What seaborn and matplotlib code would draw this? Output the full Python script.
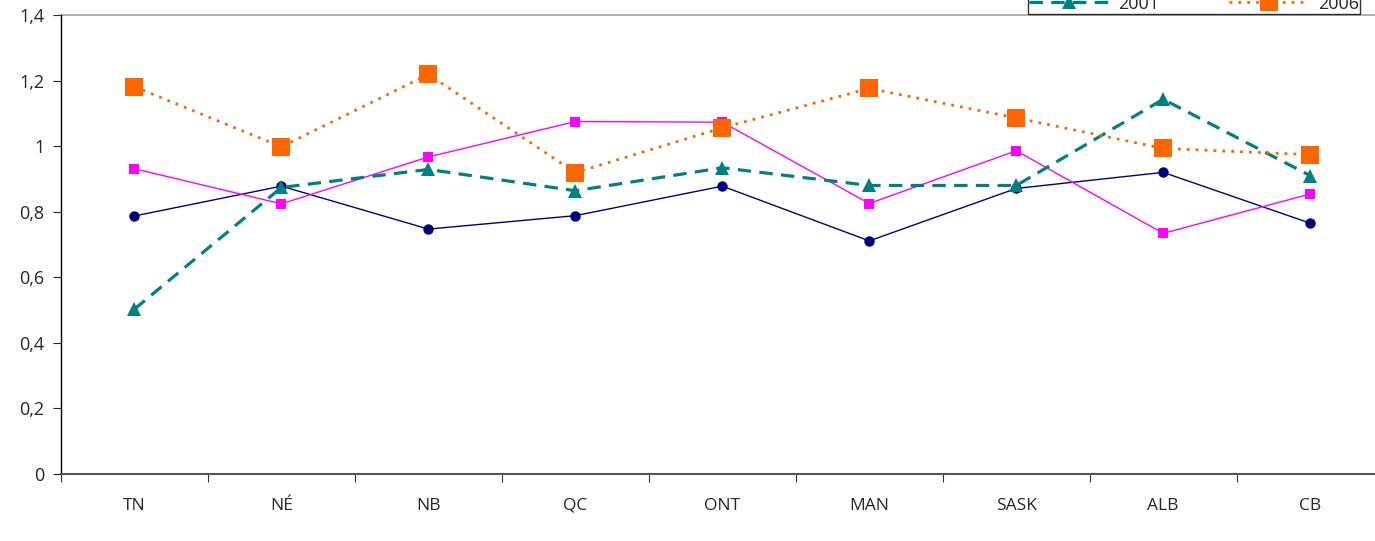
import matplotlib
matplotlib.use("Agg")
import matplotlib.pyplot as plt
import matplotlib.ticker as mticker
import numpy as np
import pandas as pd
import seaborn as sns

# categories (provinces)
provinces = ["TN", "NÉ", "NB", "QC", "ONT", "MAN", "SASK", "ALB", "CB"]

# series values
years = ["1991", "1996", "2001", "2006"]
v1991 = [0.787, 0.878, 0.747, 0.788, 0.878, 0.711, 0.871, 0.920, 0.765]
v1996 = [0.931, 0.824, 0.967, 1.075, 1.073, 0.825, 0.986, 0.734, 0.854]
v2001 = [0.503, 0.874, 0.929, 0.864, 0.934, 0.880, 0.880, 1.143, 0.910]
v2006 = [1.181, 0.998, 1.219, 0.919, 1.056, 1.176, 1.086, 0.993, 0.974]

ytick_values = [0, 0.2, 0.4, 0.6, 0.8, 1.0, 1.2, 1.4]

styles = {
    "1991": dict(color="#000080", marker="o", markersize=7.5, linewidth=1.0, linestyle="-"),
    "1996": dict(color="#FF00FF", marker="s", markersize=7, linewidth=1.0, linestyle="-"),
    "2001": dict(color="#008080", marker="^", markersize=9.5, linewidth=2.3, linestyle=(0, (4.2, 2.6))),
    "2006": dict(color="#FF6600", marker="s", markersize=13, linewidth=2.0, linestyle=(0, (1, 2.2))),
}

df = pd.DataFrame({"province": provinces, "1991": v1991, "1996": v1996,
                   "2001": v2001, "2006": v2006})

sns.set_theme(style="white")
plt.rcParams["font.family"] = ["Open Sans", "DejaVu Sans"]

fig = plt.figure(figsize=(13.75, 5.41), dpi=100)
ax = fig.add_axes([61 / 1375, (541 - 474) / 541, 1330 / 1375, (474 - 15) / 541])

xs = np.arange(len(provinces))
handles = {}
for yr in years:
    st = styles[yr]
    sns.lineplot(x=xs, y=df[yr], ax=ax, color=st["color"], marker=st["marker"],
                 markersize=st["markersize"], linewidth=st["linewidth"],
                 linestyle=st["linestyle"], markeredgecolor=st["color"],
                 markeredgewidth=0, label=yr, legend=False)
    handles[yr] = ax.lines[-1]

ax.set_xlim(-0.5, len(provinces) - 0.5 + 0.05)
ax.set_ylim(0, 1.4)
ax.set_xticks(xs)
ax.set_xticklabels(provinces, fontsize=12.5)
ax.xaxis.set_minor_locator(mticker.FixedLocator(np.arange(-0.5, len(provinces), 1)))
ax.tick_params(axis="x", which="major", length=0, pad=17)
ax.tick_params(axis="x", which="minor", length=6, width=0.8, color="#333333", direction="out")
ax.set_yticks(ytick_values)
ax.yaxis.set_major_formatter(mticker.FuncFormatter(
    lambda v, p: f"{round(v, 1):g}".replace(".", ",")))
ax.tick_params(axis="y", length=6, width=0.8, direction="out", labelsize=13, pad=6)
ax.tick_params(left=True, bottom=True, which="both")

ax.axhline(1.4, color="#a0a0a0", linewidth=1.2, clip_on=False)
for side in ["top", "right"]:
    ax.spines[side].set_visible(False)
ax.spines["left"].set_color("#000000")
ax.spines["left"].set_linewidth(1.0)
ax.spines["bottom"].set_color("#555555")
ax.spines["bottom"].set_linewidth(1.5)
ax.set_xlabel("")
ax.set_ylabel("")
ax.grid(False)

# legend sits above the figure edge, only its lower row is visible
order = ["1991", "2001", "1996", "2006"]
leg = fig.legend([handles[y] for y in order], order, ncol=2, loc="lower left",
                 bbox_to_anchor=(1028 / 1375, 1 - 14 / 541), bbox_transform=fig.transFigure,
                 frameon=True, fancybox=False, edgecolor="#000000", fontsize=13,
                 handlelength=4.4, handletextpad=0.5, columnspacing=3.9,
                 borderaxespad=0, borderpad=0.08, labelspacing=0.5)
leg.get_frame().set_linewidth(1.0)

fig.savefig("out.png", dpi=100)
